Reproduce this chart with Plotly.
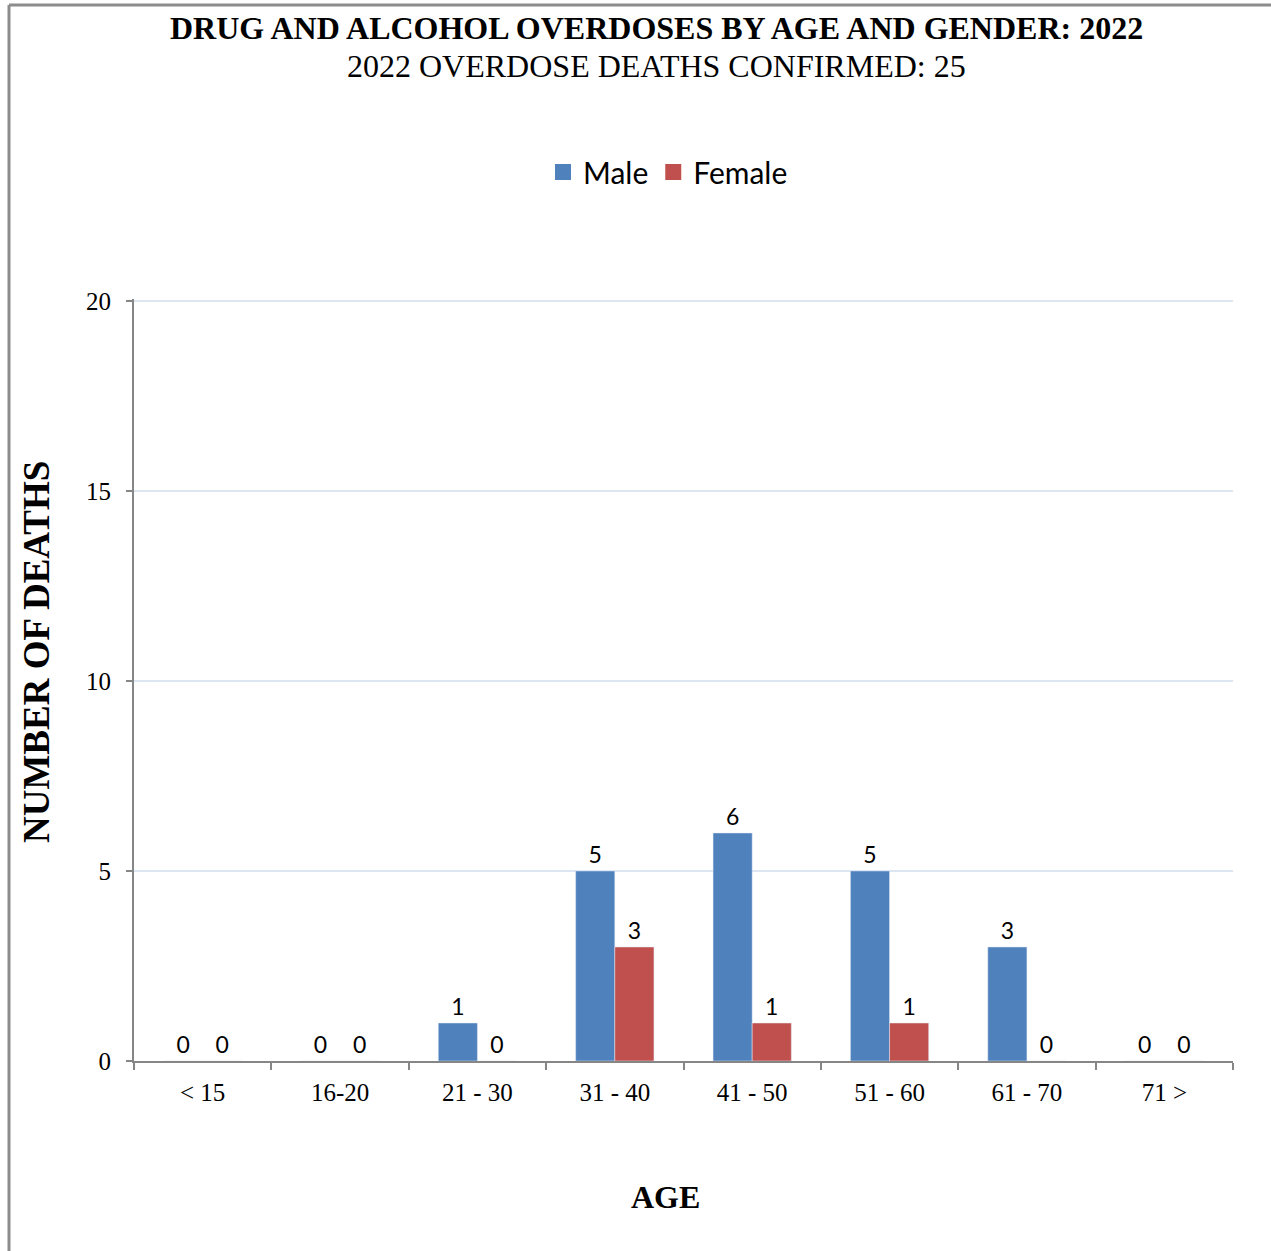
import plotly.graph_objects as go

categories = ["< 15", "16-20", "21 - 30", "31 - 40", "41 - 50", "51 - 60", "61 - 70", "71 >"]
male = [0, 0, 1, 5, 6, 5, 3, 0]
female = [0, 0, 0, 3, 1, 1, 0, 0]
y_ticks = [0, 5, 10, 15, 20]

MALE_C = "#4F81BD"
FEMALE_C = "#C0504D"

W, H = 1271, 1251
L, R, T, B = 134, 38, 299, 190
pw, ph = W - L - R, H - T - B

def px(x):
    return (x - L) / pw

def py(y):
    return (H - B - y) / ph

sans = "Lato, Carlito, sans-serif"
serif = "Liberation Serif, Times New Roman, serif"

fig = go.Figure()
for name, vals, col in [("Male", male, MALE_C), ("Female", female, FEMALE_C)]:
    fig.add_trace(go.Bar(x=categories, y=vals, name=name, marker_color=col,
                         text=vals, textposition="outside", cliponaxis=False,
                         constraintext="none", showlegend=False,
                         textfont=dict(family=sans, size=23, color="#000")))
# legend entries with larger square markers
for name, col in [("Male", MALE_C), ("Female", FEMALE_C)]:
    fig.add_trace(go.Scatter(x=[None], y=[None], mode="markers", name=name,
                             marker=dict(symbol="square", size=19, color=col)))

fig.update_layout(
    width=W, height=H,
    margin=dict(l=L, r=R, t=T, b=B, autoexpand=False),
    paper_bgcolor="white", plot_bgcolor="white",
    barmode="group", bargap=0.43, bargroupgap=0,
    legend=dict(orientation="h", x=px(668), xanchor="center", y=py(172), yanchor="middle",
                font=dict(family=sans, size=30, color="#000"),
                traceorder="normal", itemwidth=30),
    font=dict(family=serif, color="#000"),
)

fig.update_xaxes(type="category", showline=True, linecolor="#868686", linewidth=2,
                 ticks="outside", tickson="boundaries", ticklen=7, tickcolor="#868686", tickwidth=2,
                 tickfont=dict(family=serif, size=25, color="#000"), ticklabelstandoff=8,
                 showgrid=False)
fig.update_yaxes(range=[0, 20.05], tickvals=y_ticks, showline=True, linecolor="#868686", linewidth=2,
                 ticks="outside", ticklen=6, tickcolor="#868686", tickwidth=2,
                 tickfont=dict(family=serif, size=25, color="#000"), ticklabelstandoff=10,
                 showgrid=True, gridcolor="#dce6f2", gridwidth=1.5, zeroline=False)

annotations = [
    dict(text="<b>DRUG AND ALCOHOL OVERDOSES BY AGE AND GENDER: 2022</b>", x=px(656), y=py(28),
         font=dict(family=serif, size=32, color="#000")),
    dict(text="2022 OVERDOSE DEATHS CONFIRMED: 25", x=px(656), y=py(66),
         font=dict(family=serif, size=32, color="#000")),
    dict(text="<b>AGE</b>", x=px(665), y=py(1197),
         font=dict(family=serif, size=32, color="#000")),
    dict(text="<b>NUMBER OF DEATHS</b>", x=px(36), y=py(652), textangle=-90,
         font=dict(family=serif, size=37, color="#000")),
]
for a in annotations:
    a.update(xref="paper", yref="paper", showarrow=False, xanchor="center", yanchor="middle")
fig.update_layout(annotations=annotations)

frame = dict(type="line", xref="paper", yref="paper", line=dict(color="#8c8c8c", width=3), layer="above")
fig.add_shape(x0=px(9), x1=px(1280), y0=py(5), y1=py(5), **frame)
fig.add_shape(x0=px(9), x1=px(9), y0=py(5), y1=py(1270), **frame)

fig.write_html("out.html", config={"displayModeBar": False},
               post_script="document.body.style.margin='0';document.body.style.overflow='hidden';")
